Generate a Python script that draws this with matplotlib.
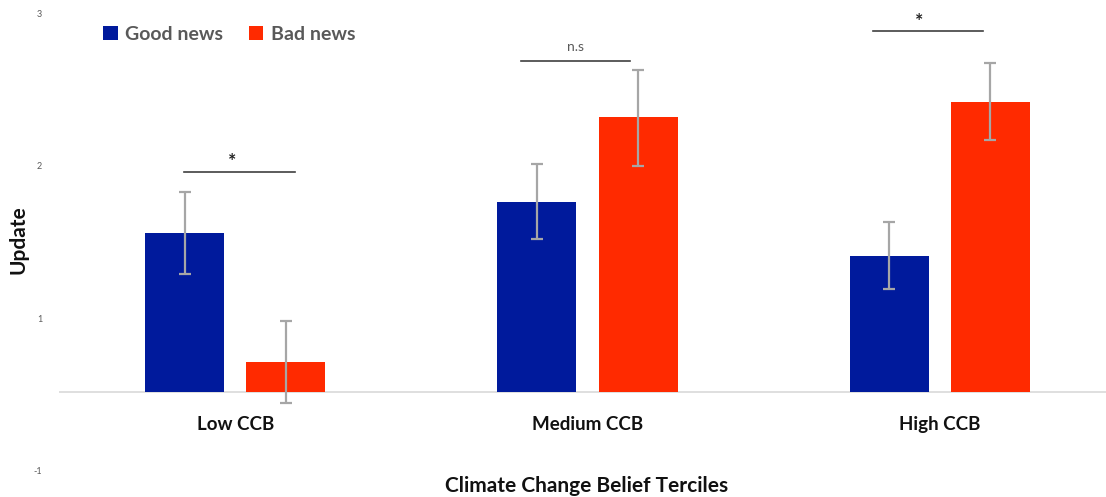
import matplotlib
matplotlib.use("Agg")
import matplotlib.pyplot as plt
import numpy as np

categories = ["Low CCB", "Medium CCB", "High CCB"]
series_names = ["Good news", "Bad news"]
good = [1.56, 1.76, 1.41]
bad = [0.71, 2.32, 2.42]
good_lo = [1.29, 1.52, 1.19]
good_hi = [1.83, 2.01, 1.63]
bad_lo = [0.44, 2.00, 2.17]
bad_hi = [0.98, 2.63, 2.68]
baseline = 0.51
ytick_vals = [0, 1, 2, 3]
ytick_labels = ["-1", "1", "2", "3"]
sig_labels = ["*", "n.s", "*"]
sig_left = [-0.145, -0.19, -0.19]
sig_right = [0.17, 0.122, 0.122]
sig_y = [1.96, 2.69, 2.89]
sig_text_y = [2.05, 2.78, 2.97]
sig_text_x = [-0.01, -0.035, -0.06]

BLUE = "#001A9C"
RED = "#FF2A00"
ERR = "#A6A6A6"
GRAY = "#595959"
FONT = ["Lato", "DejaVu Sans"]
plt.rcParams["font.family"] = FONT

fig = plt.figure(figsize=(11.06, 4.97), dpi=100)
W, H = 1106, 497
left_px, right_px = 59, 1116
bottom_px, top_px = 470, 6.4
ax = fig.add_axes([left_px / W, (H - bottom_px) / H, (right_px - left_px) / W, (bottom_px - top_px) / H])
ax.set_xlim(-0.5, 2.5)
ax.set_ylim(0, 3.05)

x = np.arange(len(categories))
off = 0.1435
bw = 0.224
g = np.array(good); b = np.array(bad)
ax.bar(x - off, g - baseline, bottom=baseline, width=bw, color=BLUE, label=series_names[0], zorder=2)
ax.bar(x + off, b - baseline, bottom=baseline, width=bw, color=RED, label=series_names[1], zorder=2)
ax.errorbar(x - off, g, yerr=[g - np.array(good_lo), np.array(good_hi) - g], fmt="none",
            ecolor=ERR, elinewidth=1.6, capsize=4, capthick=1.6, zorder=3)
ax.errorbar(x + off, b, yerr=[b - np.array(bad_lo), np.array(bad_hi) - b], fmt="none",
            ecolor=ERR, elinewidth=1.6, capsize=4, capthick=1.6, zorder=3)
ax.axhline(baseline, color="#D9D9D9", lw=1.2, zorder=1)

for i in range(len(categories)):
    ax.plot([x[i] + sig_left[i], x[i] + sig_right[i]], [sig_y[i], sig_y[i]], color="#404040", lw=1.2)
    is_star = sig_labels[i] == "*"
    ax.text(x[i] + sig_text_x[i], sig_text_y[i] - (0.02 if is_star else 0), sig_labels[i], ha="center", va="center",
            fontsize=14 if is_star else 10, color="#222222" if is_star else GRAY,
            fontweight="bold" if is_star else "normal")
    ax.text(x[i], 0.30, categories[i], ha="center", va="center", fontsize=13.5, fontweight="bold", color="#111111")

ax.set_xticks([])
ax.set_yticks(ytick_vals)
ax.set_yticklabels(ytick_labels, fontsize=6.5, color=GRAY)
ax.tick_params(axis="y", length=0, pad=12)
for s in ax.spines.values():
    s.set_visible(False)

fig.text(587 / W, 1 - 486 / H, "Climate Change Belief Terciles", ha="center", va="center",
         fontsize=15, fontweight="bold", color="#111111")
fig.text(18 / W, 1 - 240 / H, "Update", ha="center", va="center", rotation=90,
         fontsize=15, fontweight="bold", color="#111111")

leg = ax.legend(loc="upper left", bbox_to_anchor=(103 / W, 1 - 26 / H), bbox_transform=fig.transFigure,
                ncol=2, frameon=False, prop={"family": FONT, "size": 14, "weight": "bold"},
                handlelength=0.75, handleheight=0.75,
                handletextpad=0.4, columnspacing=1.3, borderpad=0, borderaxespad=0)
for t in leg.get_texts():
    t.set_color(GRAY)

fig.savefig("out.png", dpi=100)
